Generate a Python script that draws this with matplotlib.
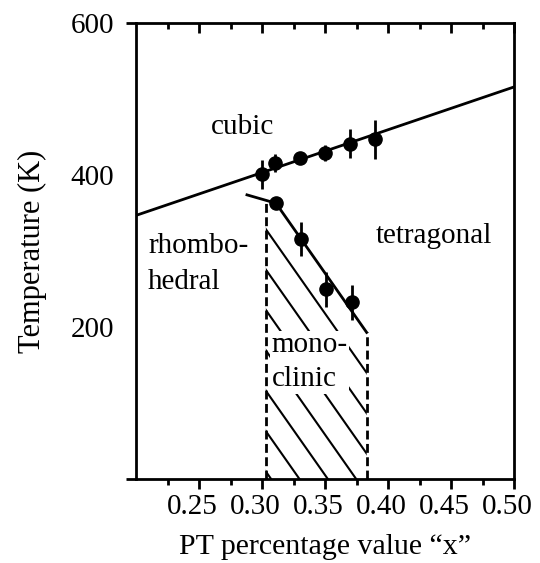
import numpy as np
import matplotlib
matplotlib.use('Agg')
from matplotlib import pyplot as plt
import matplotlib.patches as ptch
import matplotlib.transforms as mtrans

plt.rcParams['font.family'] = ['Liberation Serif', 'DejaVu Serif']
plt.rcParams['font.size'] = 21

# cubic / lower-phase transition temperatures
cub_x = [0.30, 0.31, 0.33, 0.35, 0.37, 0.39]
cub_T = [401, 416, 422, 429, 441, 447]
cub_err = [19, 12, 8, 11, 19, 26]

# monoclinic boundary points
mono_x = [0.311, 0.331, 0.351, 0.371]
mono_T = [363, 316, 250, 233]
mono_err = [4, 22, 23, 23]

# phase lines
cub_line_x = [0.20, 0.50]
cub_line_T = [347, 516]
mono_line_x = [0.311, 0.383]
mono_line_T = [363, 193]
rh_line_x = [0.288, 0.311]
rh_line_T = [374, 363]

# monoclinic region edges
mono_left = 0.303
mono_left_top = 367
mono_right = 0.383
mono_right_top = 193

fig = plt.figure(figsize=(5.4, 5.63), dpi=100)
ax = fig.add_axes([0.252, 0.149, 0.700, 0.810])
lw = 2.0

ax.plot(cub_line_x, cub_line_T, color='k', lw=lw, zorder=3)
ax.plot(mono_line_x, mono_line_T, color='k', lw=lw, zorder=3)
ax.plot(rh_line_x, rh_line_T, color='k', lw=lw, zorder=3)

ax.errorbar(cub_x, cub_T, yerr=cub_err, fmt='o', color='k', ms=9.5, elinewidth=lw, capsize=0, zorder=4)
ax.errorbar(mono_x, mono_T, yerr=mono_err, fmt='o', color='k', ms=9.5, elinewidth=lw, capsize=0, zorder=4)

# hatched monoclinic region, hatch parallel to the boundary
poly = ptch.Polygon([(mono_left, 0), (mono_left, mono_left_top), (mono_line_x[0], mono_line_T[0]),
					 (mono_line_x[1], mono_line_T[1]), (mono_right, 0)], closed=True,
					fill=False, edgecolor='none')
ax.add_patch(poly)
slope = (mono_line_T[1] - mono_line_T[0]) / (mono_line_x[1] - mono_line_x[0])
x0 = mono_line_x[0] - mono_line_T[0] / slope
for k in range(1, 9):
	xi = x0 - k * 0.0225
	tt = np.array([-50, 450])
	hl, = ax.plot(xi + tt / slope, tt, color='k', lw=1.5, zorder=1)
	hl.set_clip_path(poly)

ax.plot([mono_left, mono_left], [0, mono_left_top], color='k', lw=lw, ls=(0, (3.2, 1.6)), zorder=3)
ax.plot([mono_right, mono_right], [0, mono_right_top], color='k', lw=lw, ls=(0, (3.2, 1.6)), zorder=3)

ax.text(0.259, 463, 'cubic', ha='left', va='center')
ax.text(0.390, 320, 'tetragonal', ha='left', va='center')
ax.text(0.2095, 283, 'rhombo-\nhedral', ha='left', va='center', linespacing=1.5)
ax.text(0.3075, 154, 'mono-\nclinic', ha='left', va='center', linespacing=1.4, zorder=2,
		bbox=dict(facecolor='white', edgecolor='none', pad=1))

ax.set_xlim(0.20, 0.50)
ax.set_ylim(0, 600)
ax.set_xticks([0.25, 0.30, 0.35, 0.40, 0.45, 0.50])
ax.set_xticklabels(['0.25', '0.30', '0.35', '0.40', '0.45', '0.50'])
ax.set_xticks(np.arange(0.225, 0.5, 0.05), minor=True)
ax.set_yticks([0, 200, 400, 600])
ax.set_yticklabels(['', '200', '400', '600'])
ax.tick_params(axis='x', which='major', direction='out', length=7, width=lw, top=False, pad=4)
ax.tick_params(axis='x', which='minor', direction='out', length=4, width=lw, top=False)
ax.tick_params(axis='y', which='major', direction='out', length=7, width=lw, pad=9)
for i in (1, 2):
	ax.yaxis.get_major_ticks()[i].tick1line.set_visible(False)

shift = mtrans.ScaledTranslation(-0.07, 0, fig.dpi_scale_trans)
for lab in ax.get_xticklabels():
	lab.set_transform(lab.get_transform() + shift)

top = ax.secondary_xaxis('top')
top.set_xticks([0.25, 0.30, 0.35, 0.40, 0.45, 0.50])
top.set_xticks(np.arange(0.225, 0.5, 0.05), minor=True)
top.tick_params(which='major', direction='in', length=7, width=lw, labeltop=False)
top.tick_params(which='minor', direction='in', length=4, width=lw)
top.spines['top'].set_visible(False)

for s in ax.spines.values():
	s.set_linewidth(lw)

ax.set_xlabel('PT percentage value \u201cx\u201d', labelpad=10, fontsize=21.5)
ax.set_ylabel('Temperature (K)', labelpad=17, fontsize=22)

fig.savefig('out.png', dpi=100)
